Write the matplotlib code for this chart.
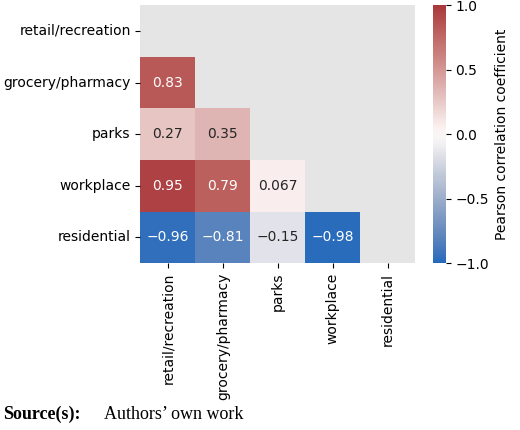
import numpy as np
import matplotlib
matplotlib.use("Agg")
import matplotlib.pyplot as plt
import seaborn as sns

labels = ["retail/recreation", "grocery/pharmacy", "parks", "workplace", "residential"]
lower_values = [
    [],
    [0.83],
    [0.27, 0.35],
    [0.95, 0.79, 0.067],
    [-0.96, -0.81, -0.15, -0.98],
]

n = len(labels)
corr = np.eye(n)
for i, row in enumerate(lower_values):
    for j, v in enumerate(row):
        corr[i, j] = v
        corr[j, i] = v
mask = np.triu(np.ones_like(corr, dtype=bool))

fig = plt.figure(figsize=(5.2, 4.3), dpi=100)
ax = fig.add_axes([0.27, 0.388, 0.528, 0.6])
cax = fig.add_axes([0.832, 0.388, 0.025, 0.6])
ax.set_facecolor("#e5e5e5")
sns.heatmap(corr, mask=mask, cmap="vlag", vmin=-1, vmax=1, annot=True,
            fmt=".2g", xticklabels=labels, yticklabels=labels, ax=ax, cbar_ax=cax,
            annot_kws={"fontsize": 10},
            cbar_kws={"label": "Pearson correlation coefficient"})
ax.tick_params(labelsize=10)
plt.setp(ax.get_xticklabels(), rotation=90)
plt.setp(ax.get_yticklabels(), rotation=0)
cax.tick_params(labelsize=10)
cax.set_yticks([-1, -0.5, 0, 0.5, 1])
cax.set_yticklabels(["\u22121.0", "\u22120.5", "0.0", "0.5", "1.0"])
for t in ax.texts:
    t.set_text(t.get_text().replace("-", "\u2212"))

fig.text(0.005, 0.025, "Source(s):", fontfamily="Liberation Serif", fontweight="bold", fontsize=13)
fig.text(0.2, 0.025, "Authors\u2019 own work", fontfamily="Liberation Serif", fontsize=13)
fig.savefig("out.png", dpi=100)
